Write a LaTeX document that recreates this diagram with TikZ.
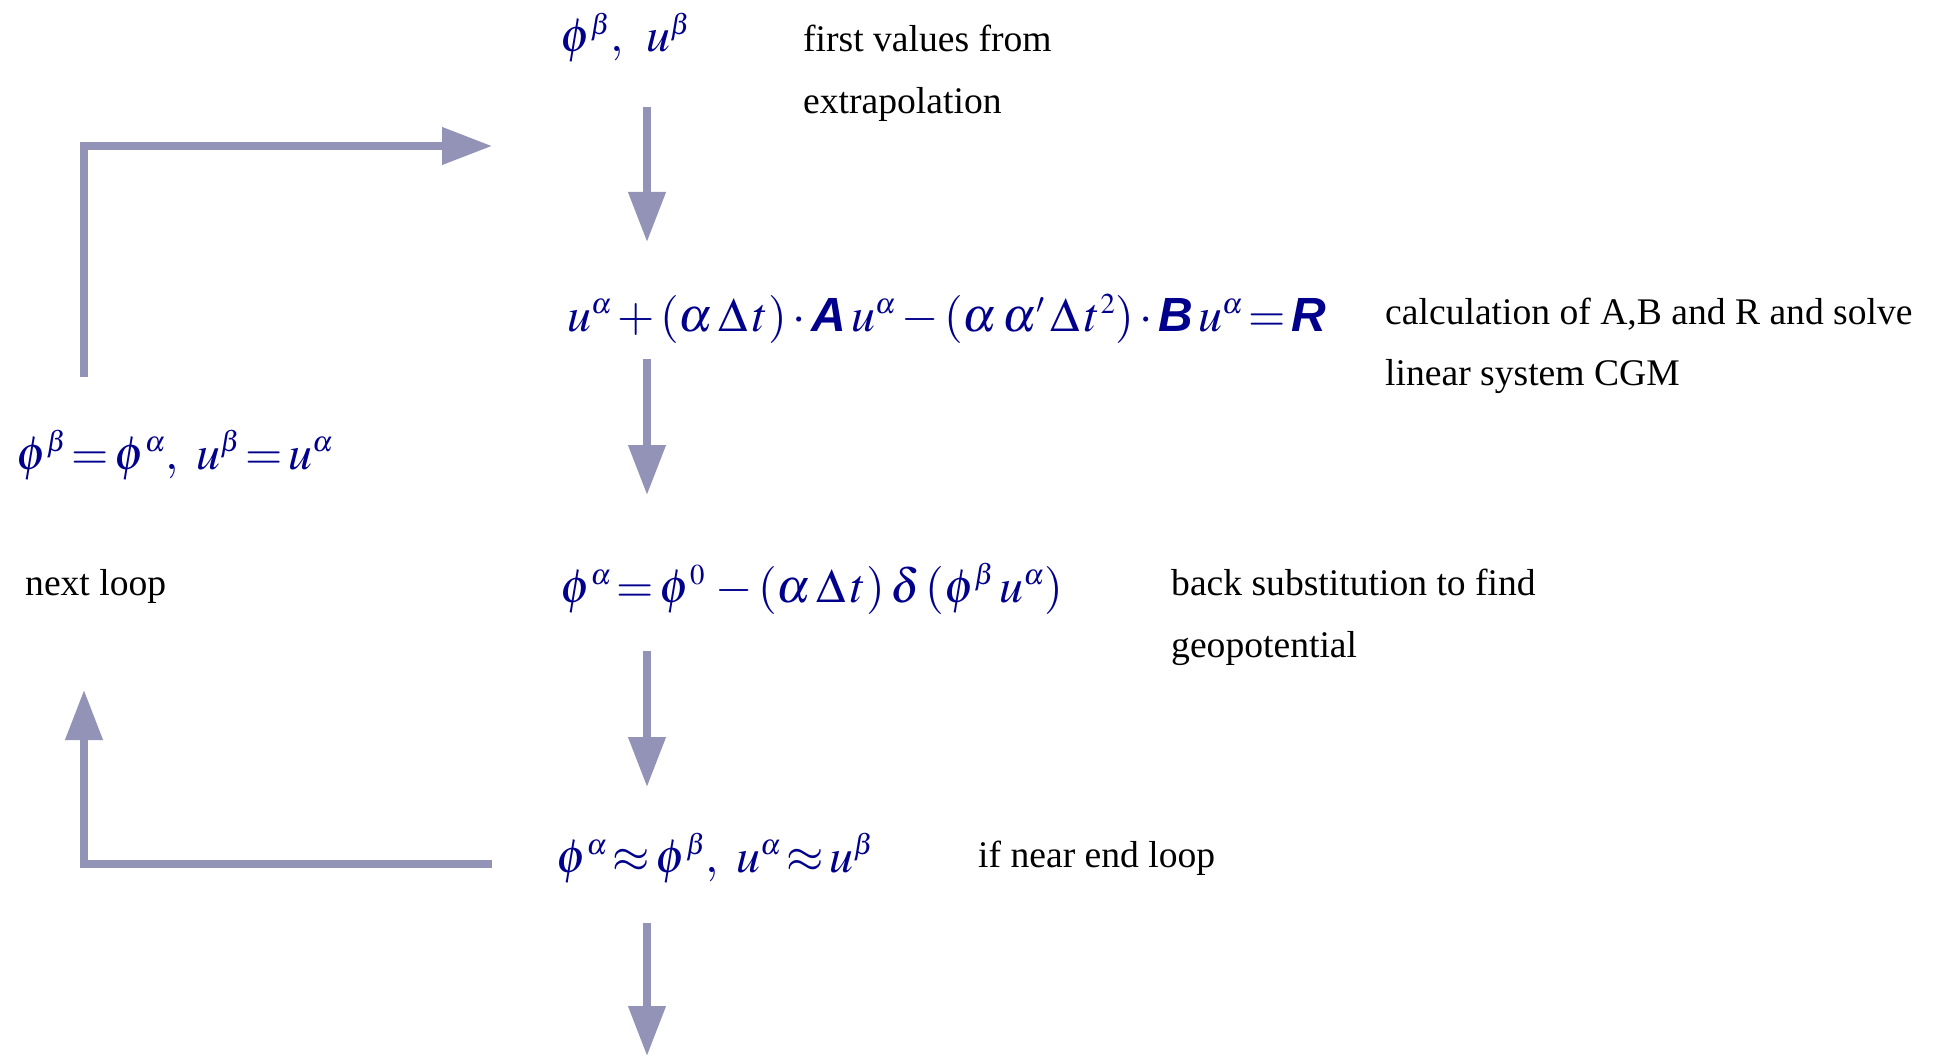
\documentclass[tikz,border=0pt]{standalone}
\usepackage{mathptmx}
\usepackage[no-math]{fontspec}
\setmainfont{Liberation Serif}
\newfontfamily\sansfam{Liberation Sans}
\usetikzlibrary{arrows.meta}
\renewcommand{\defaultscriptratio}{.6}
\renewcommand{\defaultscriptscriptratio}{.45}
\definecolor{arrowcol}{RGB}{147,147,184}
\definecolor{mathcol}{RGB}{0,0,140}
\newcommand{\bsf}[1]{\mbox{\sansfam\bfseries\itshape #1}}
\newcommand{\tightmath}{\medmuskip=2mu\thickmuskip=2mu}
\tikzset{
  flow/.style={line width=7.5pt, draw=arrowcol, -{Triangle[length=50pt,width=36pt]}},
  eq/.style={anchor=base west, inner sep=0pt, text=mathcol, font=\fontsize{48pt}{54pt}\selectfont\tightmath},
  note/.style={anchor=base west, inner sep=0pt, font=\fontsize{37.6pt}{62pt}\selectfont},
}
\begin{document}
\begin{tikzpicture}[x=1pt,y=-1pt]
\useasboundingbox (0,0) rectangle (1937,1056);
% formulas
\node[eq] (e1) at (560,52) {$\phi^\beta,\;\ u^\beta$};
\node[eq] (e2) at (567,331) {$u^\alpha+(\alpha\,\Delta\,t)\cdot\bsf{A}\,u^\alpha-(\alpha\,\alpha'\,\Delta\,t^2)\cdot\bsf{B}\,u^\alpha=\bsf{R}$};
\node[eq] (e3) at (560,602) {$\phi^\alpha=\phi^0\,-(\alpha\,\Delta\,t)\,\delta\,(\phi^\beta\,u^\alpha)$};
\node[eq] (e4) at (556,872) {$\phi^\alpha\approx\phi^\beta,\ u^\alpha\approx u^\beta$};
\node[eq] (e5) at (16,469) {$\phi^\beta=\phi^\alpha,\ u^\beta=u^\alpha$};
% notes
\node[note] (n1a) at (803,52) {first values from};
\node[note] (n1b) at (803,114) {extrapolation};
\node[note] (n2a) at (1385,324) {calculation of A,B and R and solve};
\node[note] (n2b) at (1385,385) {linear system CGM};
\node[note] (n3a) at (1171,595) {back substitution to find};
\node[note] (n3b) at (1171,657) {geopotential};
\node[note] (n4) at (978,867) {if near end loop};
\node[note] (n5) at (25,595) {next loop};
% main flow arrows
\coordinate (a1s) at (647,107); \coordinate (a1e) at (647,242);
\coordinate (a2s) at (647,359); \coordinate (a2e) at (647,495);
\coordinate (a3s) at (647,651); \coordinate (a3e) at (647,787);
\coordinate (a4s) at (647,923); \coordinate (a4e) at (647,1056);
\draw[flow] (a1s) -- (a1e);
\draw[flow] (a2s) -- (a2e);
\draw[flow] (a3s) -- (a3e);
\draw[flow] (a4s) -- (a4e);
% loop arrows
\coordinate (t1) at (84,377); \coordinate (t2) at (84,146); \coordinate (t3) at (492,146);
\draw[flow] (t1) -- (t2) -- (t3);
\coordinate (b1) at (492,864); \coordinate (b2) at (84,864); \coordinate (b3) at (84,690);
\draw[flow] (b1) -- (b2) -- (b3);
\end{tikzpicture}
\end{document}
